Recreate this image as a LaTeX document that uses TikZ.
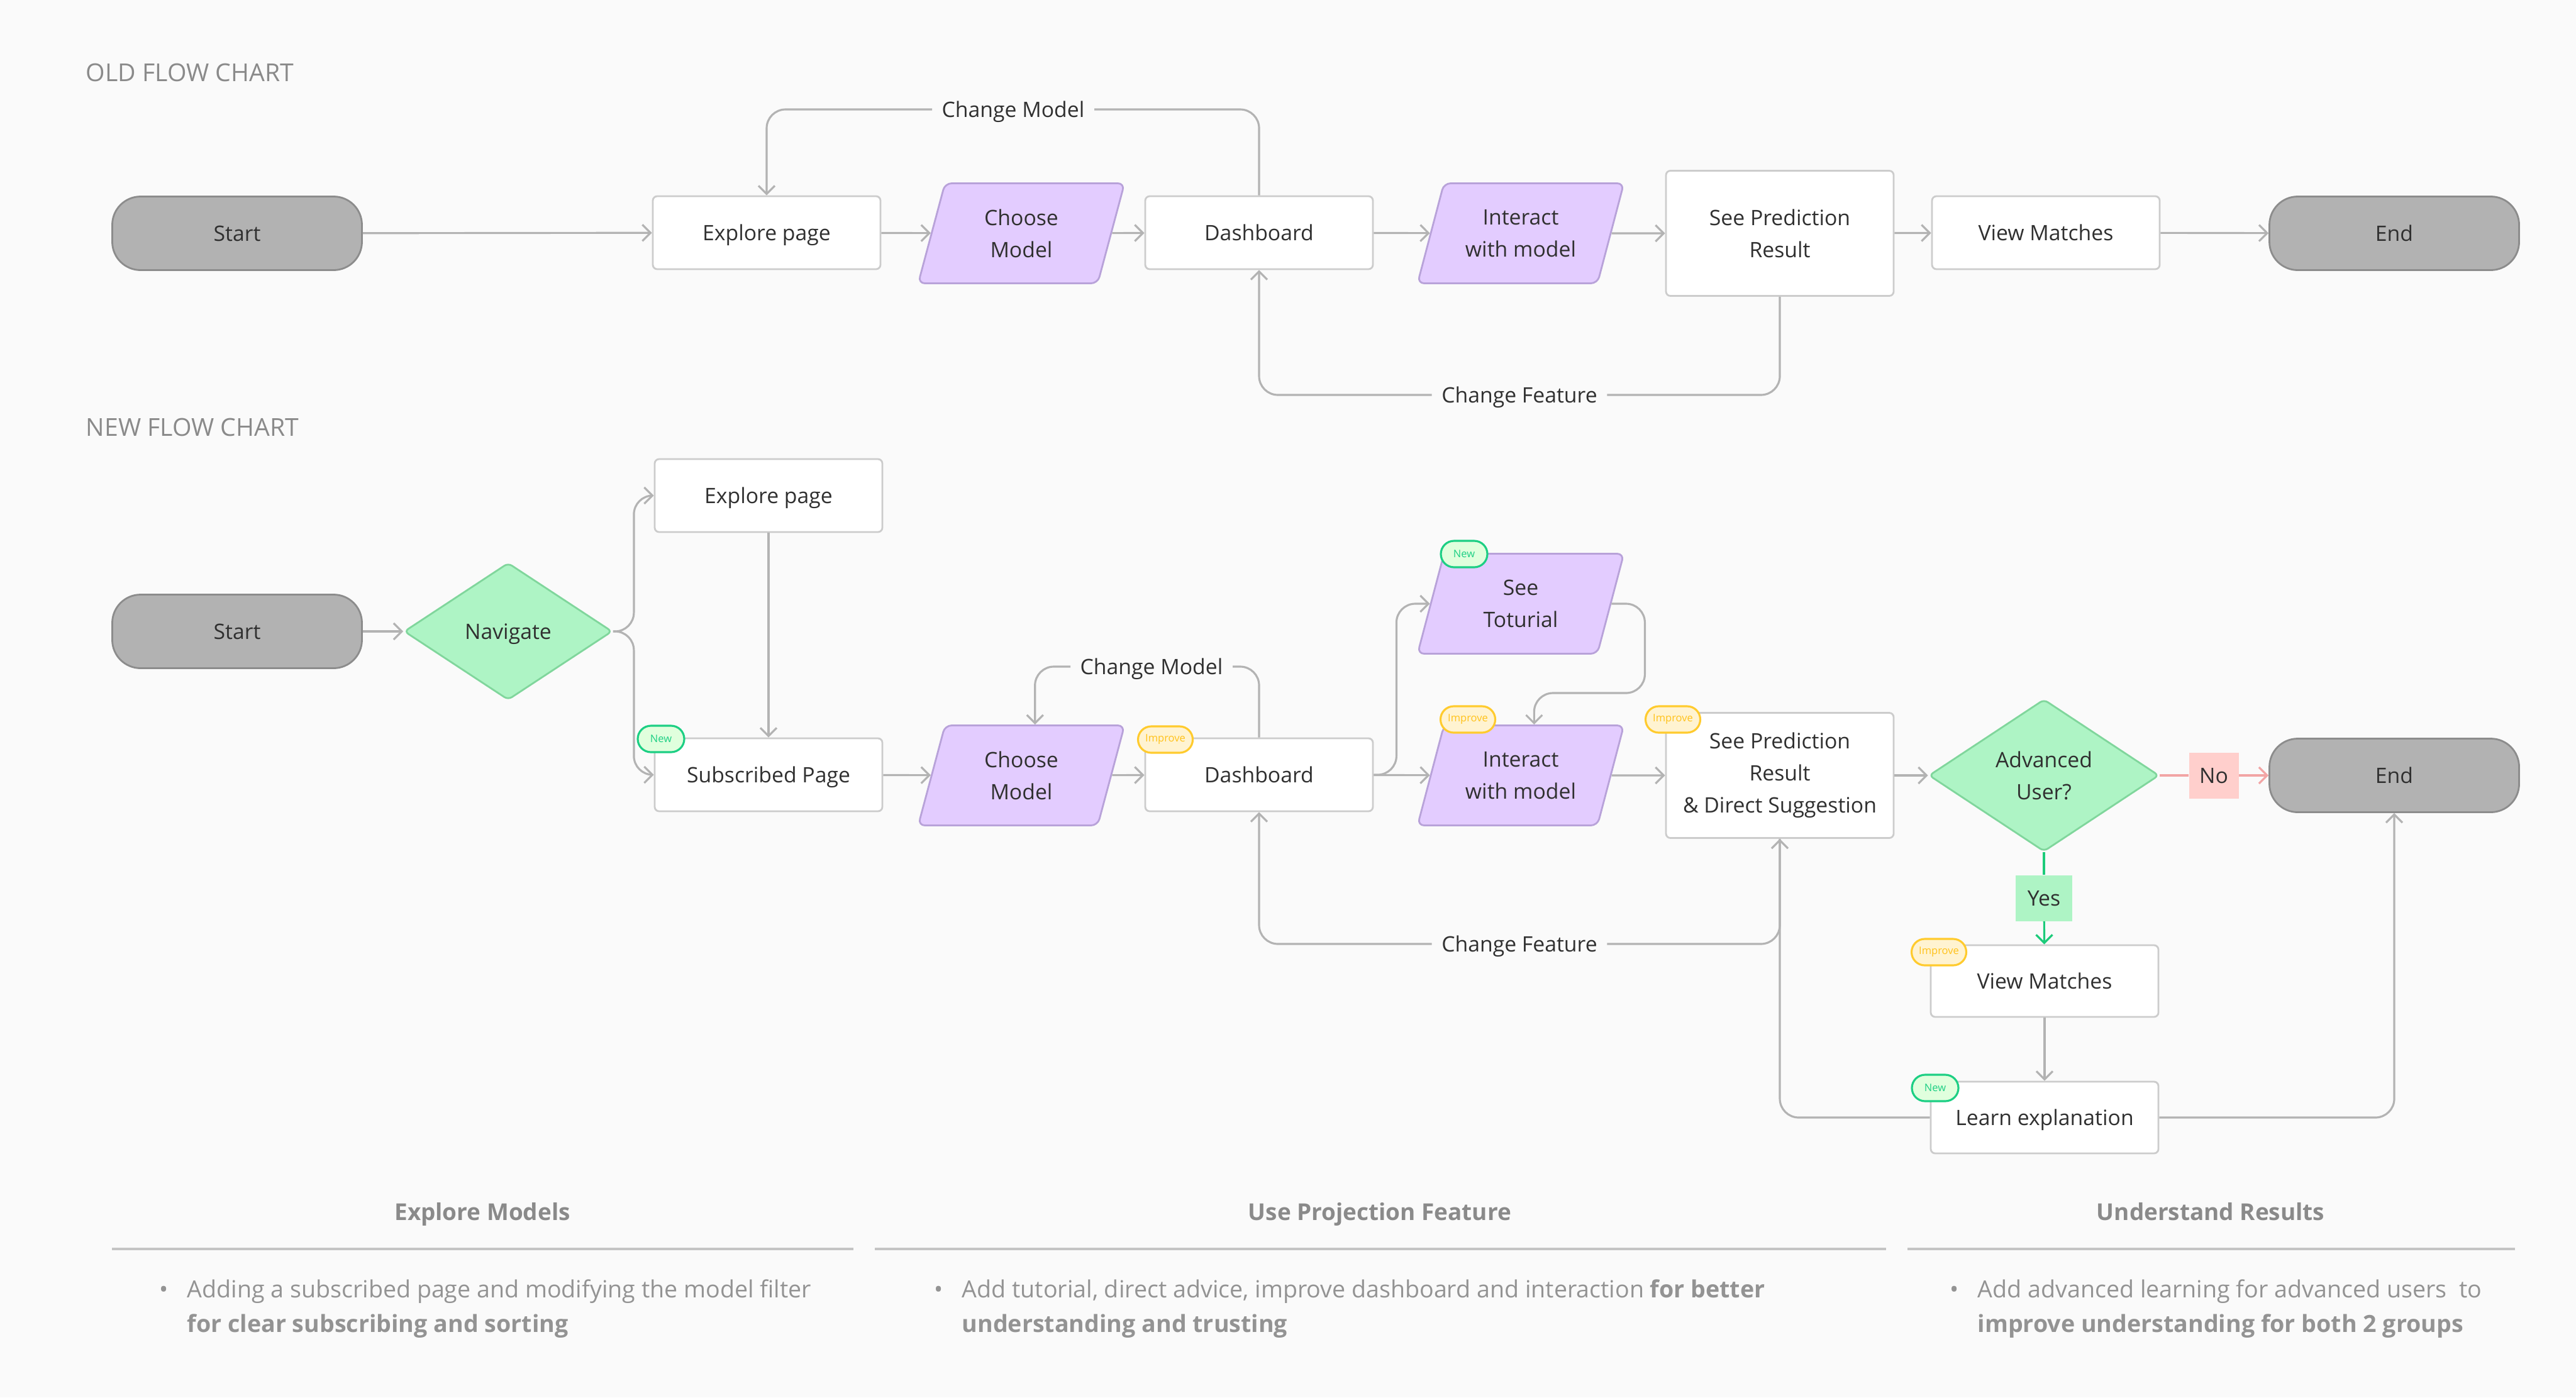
\documentclass[tikz,border=0pt]{standalone}
\usepackage{fontspec}
\setmainfont{Open Sans}
\usetikzlibrary{shapes.geometric,arrows.meta}

\definecolor{bgcol}{HTML}{FAFAFA}
\definecolor{inkcol}{HTML}{303030}
\definecolor{titlecol}{HTML}{8A8A8A}
\definecolor{bodycol}{HTML}{939393}
\definecolor{rulecol}{HTML}{C4C4C4}
\definecolor{pillfill}{HTML}{B2B2B2}
\definecolor{pillline}{HTML}{8C8C8C}
\definecolor{boxline}{HTML}{CCCCCC}
\definecolor{parafill}{HTML}{E3CCFF}
\definecolor{paraline}{HTML}{B8A2D9}
\definecolor{choicefill}{HTML}{AEF4C5}
\definecolor{choiceline}{HTML}{80D69C}
\definecolor{flowcol}{HTML}{B3B3B3}
\definecolor{nofill}{HTML}{FFCFCC}
\definecolor{nocol}{HTML}{F2A5A5}
\definecolor{yescol}{HTML}{1CCB7A}
\definecolor{newfill}{HTML}{E0FFDD}
\definecolor{newcol}{HTML}{1DCF84}
\definecolor{impfill}{HTML}{FFF3D1}
\definecolor{impline}{HTML}{FFCB2E}
\definecolor{impcol}{HTML}{FFC21A}

\tikzset{
  >={Straight Barb[length=1.3mm,width=2.6mm]},
  nodetext/.style={font=\fontsize{9.6}{14.5}\selectfont, text=inkcol, align=center},
  oneline/.style={text height=0.72em, text depth=0pt},
  pill/.style={nodetext, oneline, draw=pillline, fill=pillfill, rounded corners=0.45cm, line width=0.8pt, minimum width=3.97cm, minimum height=1.17cm},
  flowbox/.style={nodetext, draw=boxline, fill=white, rounded corners=2pt, line width=0.8pt, minimum width=3.62cm, minimum height=1.16cm},
  para/.style={nodetext, trapezium, trapezium left angle=67, trapezium right angle=113, trapezium stretches body, draw=paraline, fill=parafill, rounded corners=3pt, line width=0.8pt, minimum width=3.28cm, minimum height=1.59cm},
  choice/.style={nodetext, diamond, shape aspect=1.5, inner sep=1pt, draw=choiceline, fill=choicefill, line width=0.8pt, rounded corners=2pt},
  tagtext/.style={font=\fontsize{4.7}{5}\selectfont, rounded corners=0.21cm, line width=0.9pt, minimum height=0.42cm, inner sep=0pt},
  newtag/.style={tagtext, draw=newcol, fill=newfill, text=newcol, minimum width=0.74cm},
  imptag/.style={tagtext, draw=impline, fill=impfill, text=impcol, minimum width=0.87cm},
  loopnote/.style={nodetext, oneline, inner sep=0.15cm},
  flow/.style={->, draw=flowcol, line width=0.9pt, rounded corners=0.3cm},
  chartname/.style={font=\fontsize{11.15}{13}\selectfont, text=titlecol, anchor=west, inner sep=0pt},
  sectionhead/.style={font=\fontsize{10.5}{13}\selectfont\bfseries, text=titlecol, anchor=base},
  bodytext/.style={font=\fontsize{10.7}{15.6}\selectfont, text=bodycol, align=left, inner sep=0pt},
  rule/.style={draw=rulecol, line width=1.4pt}
}

\begin{document}
\begin{tikzpicture}
	\fill[bgcol] (0,0) rectangle (40.96,-22.22);
	\useasboundingbox (0,0) rectangle (40.96,-22.22);

	% old flow chart
	\draw (1.36,-1.15) node[chartname] (oldName) {OLD FLOW CHART};

	\draw (3.77,-3.71) node[pill] (startA) {Start};
	\draw (12.19,-3.70) node[flowbox, oneline] (exploreA) {Explore page};
	\draw (16.24,-3.71) node[para] (chooseA) {Choose\\Model};
	\draw (20.02,-3.70) node[flowbox, oneline] (dashA) {Dashboard};
	\draw (24.18,-3.71) node[para] (interactA) {Interact\\with model};
	\draw (28.30,-3.71) node[flowbox, minimum height=1.99cm] (predA) {See Prediction\\Result};
	\draw (32.53,-3.70) node[flowbox, oneline] (viewA) {View Matches};
	\draw (38.07,-3.71) node[pill] (endA) {End};

	\draw (16.11,-1.74) node[loopnote] (modelA) {Change Model};
	\draw (24.16,-6.28) node[loopnote] (featureA) {Change Feature};

	\draw[flow] (startA) -- (exploreA);
	\draw[flow] (exploreA) -- (chooseA);
	\draw[flow] (chooseA) -- (dashA);
	\draw[flow] (dashA) -- (interactA);
	\draw[flow] (interactA) -- (predA);
	\draw[flow] (predA) -- (viewA);
	\draw[flow] (viewA) -- (endA);
	\draw[flow] (dashA.north) |- (modelA) -| (exploreA.north);
	\draw[flow] (predA.south) |- (featureA) -| (dashA.south);

	% new flow chart
	\draw (1.36,-6.79) node[chartname] (newName) {NEW FLOW CHART};

	\draw (3.77,-10.04) node[pill] (startB) {Start};
	\draw (8.08,-10.04) node[choice, oneline, minimum width=3.31cm, minimum height=2.18cm] (navB) {Navigate};
	\draw (12.22,-7.88) node[flowbox, oneline] (exploreB) {Explore page};
	\draw (12.22,-12.32) node[flowbox, oneline] (subB) {Subscribed Page};
	\draw (16.24,-12.33) node[para] (chooseB) {Choose\\Model};
	\draw (20.02,-12.32) node[flowbox, oneline] (dashB) {Dashboard};
	\draw (24.18,-9.60) node[para] (tutB) {See\\Toturial};
	\draw (24.18,-12.33) node[para] (interactB) {Interact\\with model};
	\draw (28.30,-12.33) node[flowbox, minimum height=1.99cm] (predB) {See Prediction\\Result\\\& Direct Suggestion};
	\draw (32.50,-12.33) node[choice, minimum width=3.66cm, minimum height=2.42cm] (advB) {Advanced\\User?};
	\draw (35.20,-12.33) node[nodetext, oneline, fill=nofill, minimum width=0.79cm, minimum height=0.73cm] (noB) {No};
	\draw (38.07,-12.33) node[pill] (endB) {End};
	\draw (32.50,-14.28) node[nodetext, oneline, fill=choicefill, minimum width=0.90cm, minimum height=0.73cm] (yesB) {Yes};
	\draw (32.51,-15.60) node[flowbox, oneline, minimum height=1.14cm] (viewB) {View Matches};
	\draw (32.51,-17.77) node[flowbox, oneline, minimum height=1.14cm] (learnB) {Learn explanation};

	\draw (18.31,-10.60) node[loopnote] (modelB) {Change Model};
	\draw (24.16,-15.01) node[loopnote] (featureB) {Change Feature};

	\draw (10.51,-11.75) node[newtag] (newSub) {New};
	\draw (18.53,-11.76) node[imptag] (impDash) {Improve};
	\draw (23.28,-8.81) node[newtag] (newTut) {New};
	\draw (23.34,-11.44) node[imptag] (impInteract) {Improve};
	\draw (26.60,-11.44) node[imptag] (impPred) {Improve};
	\draw (30.83,-15.14) node[imptag] (impView) {Improve};
	\draw (30.77,-17.30) node[newtag] (newLearn) {New};

	\draw[flow] (startB) -- (navB);
	\draw[flow] (navB.east) -- ++(0.33,0) |- (exploreB.west);
	\draw[flow] (navB.east) -- ++(0.33,0) |- (subB.west);
	\draw[flow] (exploreB) -- (subB);
	\draw[flow] (subB) -- (chooseB);
	\draw[flow] (chooseB) -- (dashB);
	\draw[flow] (dashB.north) |- (modelB) -| (chooseB.top side);
	\draw[flow] (dashB) -- (interactB);
	\draw[flow] (dashB.east) -- ++(0.36,0) |- (tutB);
	\draw[flow] (tutB.right side) -- ++(0.53,0) -- ++(0,-1.42) -| (interactB.top side);
	\draw[flow] (interactB) -- (predB);
	\draw[flow] (predB) -- (advB);
	\draw[flow] (predB.south) |- (featureB) -| (dashB.south);
	\draw[flow, draw=nocol, -] (advB) -- (noB);
	\draw[flow, draw=nocol] (noB) -- (endB);
	\draw[flow, draw=yescol, -] (advB) -- (yesB);
	\draw[flow, draw=yescol] (yesB) -- (viewB);
	\draw[flow] (viewB) -- (learnB);
	\draw[flow] (learnB.west) -| (predB.south);
	\draw[flow] (learnB.east) -| (endB.south);

	% summary
	\draw (7.67,-19.40) node[sectionhead] (headExplore) {Explore Models};
	\draw (21.94,-19.40) node[sectionhead] (headProject) {Use Projection Feature};
	\draw (35.15,-19.40) node[sectionhead] (headResult) {Understand Results};

	\draw[rule] (1.78,-19.86) -- (13.57,-19.86);
	\draw[rule] (13.91,-19.86) -- (29.99,-19.86);
	\draw[rule] (30.33,-19.86) -- (39.99,-19.86);

	\draw (2.61,-20.63) node[bodytext, anchor=base] (dotExplore) {•};
	\draw (2.97,-21.18) node[bodytext, anchor=base west] (textExplore) {Adding a subscribed page and modifying the model filter\\\textbf{for clear subscribing and sorting}};
	\draw (14.93,-20.63) node[bodytext, anchor=base] (dotProject) {•};
	\draw (15.29,-21.18) node[bodytext, anchor=base west] (textProject) {Add tutorial, direct advice, improve dashboard and interaction \textbf{for better}\\\textbf{understanding and trusting}};
	\draw (31.08,-20.63) node[bodytext, anchor=base] (dotResult) {•};
	\draw (31.44,-21.18) node[bodytext, anchor=base west] (textResult) {Add advanced learning for advanced users~ to\\\textbf{improve understanding for both 2 groups}};
\end{tikzpicture}
\end{document}
